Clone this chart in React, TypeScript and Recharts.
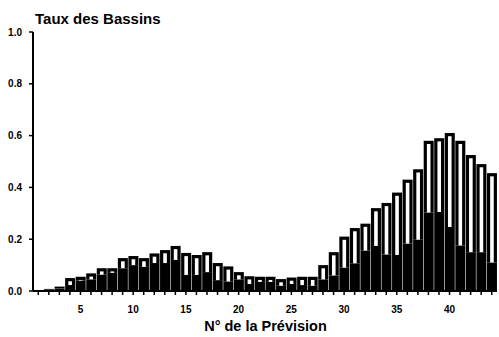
import React from "react";
import { Bar, BarChart, XAxis, YAxis } from "recharts";

// forecast number (N° de la Prévision)
const forecasts = Array.from({ length: 44 }, (_, i) => i + 1);

// top of each outlined bar
const totals = [
  0.003, 0.008, 0.017, 0.05, 0.055, 0.068, 0.088, 0.088, 0.127, 0.135,
  0.127, 0.145, 0.158, 0.174, 0.147, 0.139, 0.15, 0.108, 0.095, 0.073,
  0.057, 0.055, 0.055, 0.046, 0.052, 0.055, 0.055, 0.1, 0.15, 0.21,
  0.243, 0.26, 0.32, 0.34, 0.38, 0.43, 0.47, 0.58, 0.59, 0.61,
  0.58, 0.525, 0.49, 0.455,
];

// black (filled) lower part of each bar
const lowers = [
  0.002, 0.005, 0.01, 0.023, 0.04, 0.045, 0.063, 0.07, 0.088, 0.1,
  0.093, 0.108, 0.108, 0.12, 0.062, 0.062, 0.073, 0.042, 0.037, 0.045,
  0.027, 0.035, 0.035, 0.02, 0.027, 0.023, 0.02, 0.045, 0.06, 0.09,
  0.107, 0.156, 0.174, 0.141, 0.139, 0.183, 0.198, 0.303, 0.305, 0.247,
  0.176, 0.15, 0.15, 0.11,
];

const yTicks = [0, 0.2, 0.4, 0.6, 0.8, 1.0];

const data = forecasts.map((n, i) => ({
  n,
  lower: lowers[i],
  upper: Math.max(totals[i] - lowers[i], 0),
}));

const FONT = "'Liberation Sans', Arial, Helvetica, sans-serif";

// outlined upper segment: black frame with a white core
function HollowBar(props: any) {
  const { x, y, width, height } = props;
  if (!height || height <= 0) return null;
  const inset = 3.2;
  const innerW = width - inset * 2;
  const innerH = height - inset;
  return (
    <g>
      <rect x={x} y={y} width={width} height={height} fill="#000" />
      {innerW > 0 && innerH > 0 && (
        <rect x={x + inset} y={y + inset} width={innerW} height={innerH} fill="#fff" />
      )}
    </g>
  );
}

function XTick({ x, y, payload }: any) {
  if (payload.value % 5 !== 0) return <g />;
  return (
    <text
      x={x}
      y={y}
      dy="0.71em"
      textAnchor="middle"
      fontFamily={FONT}
      fontSize={10}
      fontWeight="bold"
      fill="#000"
    >
      {payload.value}
    </text>
  );
}

export default function App() {
  return (
    <div style={{ position: "absolute", left: 0, top: 0, width: 499, height: 337, background: "#fff" }}>
      <BarChart
        width={499}
        height={337}
        data={data}
        margin={{ top: 32, right: 2, left: 0, bottom: 16 }}
        barCategoryGap={0.5}
      >
        <XAxis
          dataKey="n"
          interval={0}
          tick={<XTick />}
          tickSize={4}
          tickMargin={11}
          height={30}
          axisLine={{ stroke: "#000", strokeWidth: 2 }}
          tickLine={{ stroke: "#000", strokeWidth: 1.5 }}
        />
        <XAxis
          xAxisId="top"
          dataKey="n"
          orientation="top"
          height={0}
          tick={false}
          tickLine={false}
          axisLine={{ stroke: "#000", strokeWidth: 2 }}
        />
        <YAxis
          domain={[0, 1]}
          ticks={yTicks}
          width={33}
          tickSize={4}
          tickMargin={7}
          tickFormatter={(v: number) => v.toFixed(1)}
          tick={{ fill: "#000", fontSize: 10, fontWeight: "bold", fontFamily: FONT }}
          axisLine={{ stroke: "#000", strokeWidth: 2 }}
          tickLine={{ stroke: "#000", strokeWidth: 1.5 }}
        />
        <YAxis
          yAxisId="right"
          orientation="right"
          domain={[0, 1]}
          width={0}
          tick={false}
          tickLine={false}
          axisLine={{ stroke: "#000", strokeWidth: 2 }}
        />
        <Bar dataKey="lower" stackId="a" fill="#000" isAnimationActive={false} />
        <Bar dataKey="upper" stackId="a" shape={<HollowBar />} isAnimationActive={false} />
      </BarChart>
      <svg
        width={499}
        height={337}
        style={{ position: "absolute", left: 0, top: 0, pointerEvents: "none" }}
      >
        <text x={35} y={24} fontFamily={FONT} fontSize={15} fontWeight="bold" fill="#000">
          Taux des Bassins
        </text>
        <text
          x={265.5}
          y={331}
          textAnchor="middle"
          fontFamily={FONT}
          fontSize={14.5}
          fontWeight="bold"
          fill="#000"
        >
          N° de la Prévision
        </text>
      </svg>
    </div>
  );
}
